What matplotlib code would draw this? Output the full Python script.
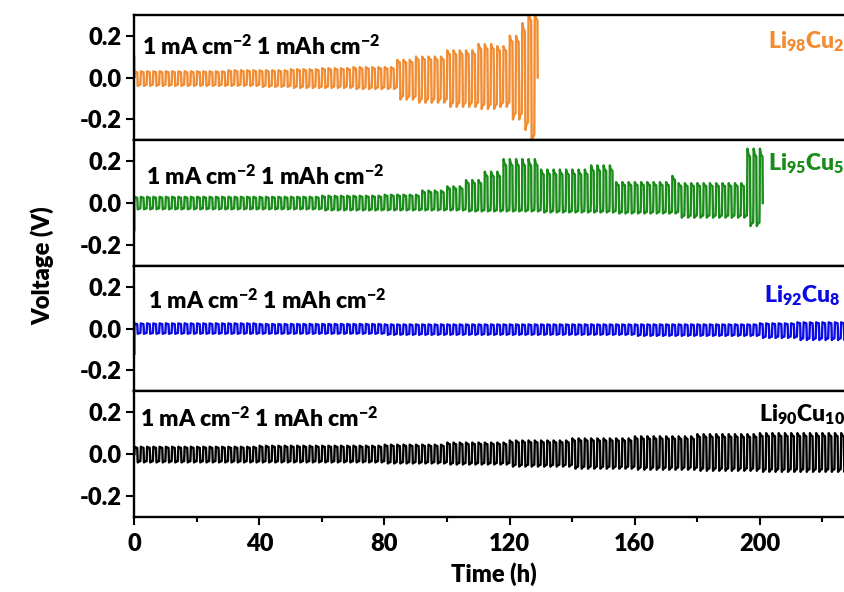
import numpy as np
import matplotlib
matplotlib.use("Agg")
import matplotlib.pyplot as plt
from matplotlib.ticker import MultipleLocator

# envelope of the voltage profiles in time blocks (h, V)
orange_edges = [0, 10, 20, 30, 40, 50, 60, 70, 84, 90, 100, 110, 116, 120, 124, 126, 129]
orange_up = [0.03, 0.03, 0.03, 0.035, 0.035, 0.04, 0.045, 0.05, 0.085, 0.10, 0.13, 0.16, 0.15, 0.20, 0.26, 0.32]
orange_lo = [0.04, 0.04, 0.04, 0.04, 0.045, 0.05, 0.05, 0.055, 0.105, 0.12, 0.14, 0.15, 0.14, 0.20, 0.25, 0.32]
orange_start = 0.10

green_edges = [0, 20, 40, 60, 80, 92, 100, 106, 112, 118, 130, 146, 154, 172, 174, 196, 201]
green_up = [0.03, 0.03, 0.03, 0.035, 0.04, 0.06, 0.08, 0.11, 0.15, 0.21, 0.16, 0.18, 0.10, 0.13, 0.095, 0.26]
green_lo = [0.03, 0.03, 0.03, 0.035, 0.035, 0.035, 0.035, 0.04, 0.04, 0.04, 0.045, 0.045, 0.05, 0.05, 0.07, 0.11]
green_start = -0.13

blue_edges = [0, 40, 80, 120, 160, 200, 212, 230]
blue_up = [0.025, 0.022, 0.02, 0.02, 0.02, 0.025, 0.03]
blue_lo = [0.025, 0.025, 0.03, 0.03, 0.035, 0.045, 0.055]
blue_start = -0.12

black_edges = [0, 40, 80, 100, 120, 140, 160, 180, 200, 230]
black_up = [0.035, 0.04, 0.045, 0.055, 0.065, 0.075, 0.085, 0.095, 0.10]
black_lo = [0.04, 0.04, 0.045, 0.05, 0.06, 0.07, 0.075, 0.08, 0.085]
black_start = 0.0

labels = ["Li$_{98}$Cu$_{2}$", "Li$_{95}$Cu$_{5}$", "Li$_{92}$Cu$_{8}$", "Li$_{90}$Cu$_{10}$"]
colors = ["#F28C32", "#1A8C1A", "#0A0AE6", "#000000"]
note = "1 mA cm$^{-2}$ 1 mAh cm$^{-2}$"

# shape of one 1 h half cycle (time fraction, fraction of the amplitude)
HALF_REL = [0.0, 0.08, 0.4, 0.92, 1.0]
HALF_FRAC = [0.0, 1.0, 0.9, 0.85, 0.0]


def build_trace(edges, up, lo, start):
    """Expand the block envelopes into a 2 h charge/discharge profile."""
    t, v = [0.0], [start]
    t_end = edges[-1]
    t0 = 0.0
    while t0 < t_end:
        k = min(np.searchsorted(edges, t0, side="right") - 1, len(up) - 1)
        for sign, amp in ((1, up[k]), (-1, lo[k])):
            for r, f in zip(HALF_REL, HALF_FRAC):
                if t0 + r <= t_end:
                    t.append(t0 + r)
                    v.append(sign * amp * f)
            t0 += 1.0
    return t, v


W = "heavy"
plt.rcParams["font.family"] = ["Lato", "DejaVu Sans"]
plt.rcParams["font.weight"] = W
plt.rcParams["mathtext.fontset"] = "custom"
plt.rcParams["mathtext.rm"] = "Lato:heavy"
plt.rcParams["mathtext.bf"] = "Lato:heavy"
plt.rcParams["mathtext.default"] = "bf"

fig, axes = plt.subplots(4, 1, figsize=(8.45, 5.92), dpi=100, sharex=True)
fig.subplots_adjust(left=0.159, right=1.01, top=0.975, bottom=0.127, hspace=0)

series = [
    (orange_edges, orange_up, orange_lo, orange_start),
    (green_edges, green_up, green_lo, green_start),
    (blue_edges, blue_up, blue_lo, blue_start),
    (black_edges, black_up, black_lo, black_start),
]
note_pos = [(2.5, 0.148), (3.8, 0.124), (4.4, 0.133), (1.8, 0.167)]
label_pos = [(227.0, 0.17, "right"), (202.8, 0.186, "left"), (226.0, 0.157, "right"), (227.2, 0.19, "right")]

for i, ax in enumerate(axes):
    edges, up, lo, start = series[i]
    t, v = build_trace(edges, up, lo, start)
    ax.plot(t, v, color=colors[i], lw=1.7)
    ax.set_ylim(-0.3, 0.3)
    ax.set_xlim(0, 230)
    ax.yaxis.set_major_locator(MultipleLocator(0.2))
    ax.yaxis.set_major_formatter(matplotlib.ticker.FormatStrFormatter("%.1f"))
    ax.tick_params(axis="y", direction="out", length=6, width=1.5, labelsize=17, pad=3)
    ax.tick_params(axis="x", direction="out", length=6, width=1.5, labelsize=17, pad=6)
    ax.tick_params(axis="x", which="minor", direction="out", length=3.5, width=1.5)
    for s in ax.spines.values():
        s.set_linewidth(1.7)
    ax.spines["right"].set_visible(False)
    for lab in ax.get_xticklabels() + ax.get_yticklabels():
        lab.set_fontweight(W)
    nx, ny = note_pos[i]
    ax.text(nx, ny, note, fontsize=16.5, fontweight=W, va="center", ha="left")
    lx, ly, lha = label_pos[i]
    ax.text(lx, ly, labels[i], fontsize=16.5, fontweight=W, color=colors[i], va="center", ha=lha)

axes[-1].xaxis.set_major_locator(MultipleLocator(40))
axes[-1].xaxis.set_minor_locator(MultipleLocator(20))
axes[-1].set_xlabel("Time (h)", fontsize=17, fontweight=W, labelpad=5)
for ax in axes[:-1]:
    ax.tick_params(axis="x", which="both", bottom=False)

fig.text(0.05, 0.5507, "Voltage (V)", rotation=90, fontsize=17, fontweight=W, va="center", ha="center")

fig.savefig("out.png", dpi=100)
